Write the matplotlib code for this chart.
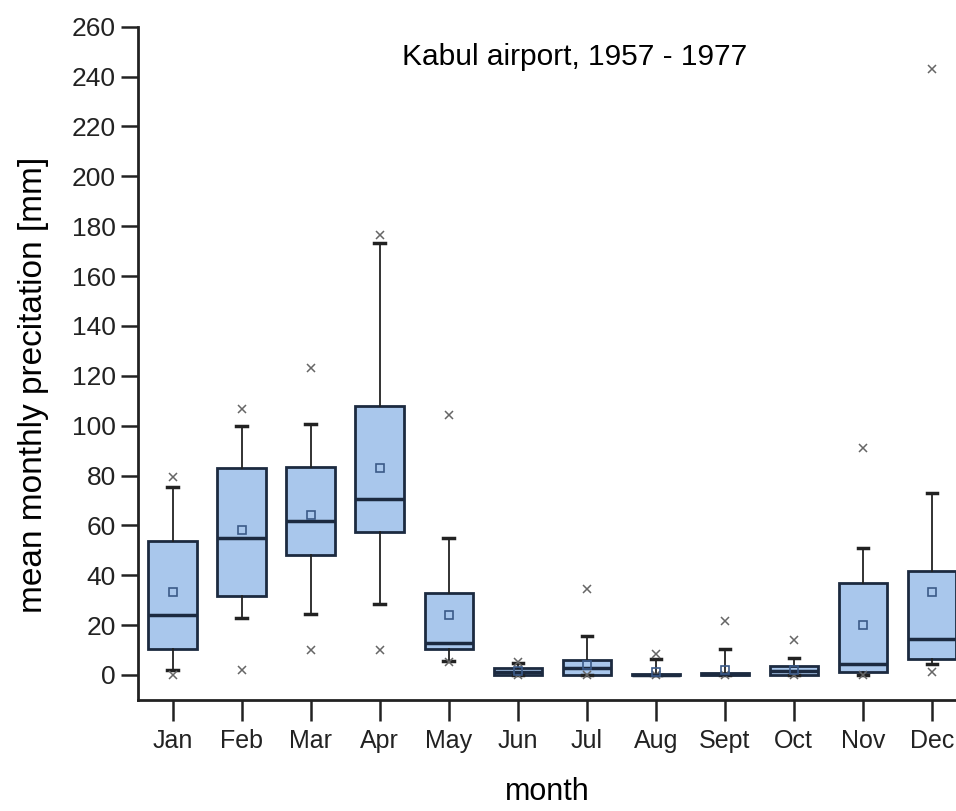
import numpy as np
import matplotlib
matplotlib.use("Agg")
import matplotlib.pyplot as plt

plt.rcParams['font.family'] = ['Liberation Sans', 'DejaVu Sans']

months = ['Jan', 'Feb', 'Mar', 'Apr', 'May', 'Jun',
          'Jul', 'Aug', 'Sept', 'Oct', 'Nov', 'Dec']

# box statistics (mm)
q1 = [10.5, 31.8, 48.3, 57.3, 10.4, 0.0, 0.0, 0.0, 0.0, 0.0, 1.2, 6.6]
median = [24.0, 54.8, 61.9, 70.4, 13.0, 1.2, 2.8, 0.0, 0.4, 1.5, 4.3, 14.3]
q3 = [53.8, 82.9, 83.5, 107.7, 32.7, 2.7, 6.0, 0.3, 0.9, 3.5, 37.0, 41.7]
whislo = [2.0, 22.8, 24.6, 28.5, 5.4, 0.0, 0.0, 0.0, 0.0, 0.0, 0.0, 4.3]
whishi = [75.3, 99.8, 100.8, 173.2, 54.8, 4.6, 15.6, 6.3, 10.4, 6.7, 51.0, 72.8]
mean = [33.3, 58.1, 64.2, 82.9, 23.9, 1.5, 4.0, 1.3, 2.0, 2.0, 20.0, 33.4]
x_min = [0.0, 1.8, 9.9, 9.9, 5.0, 0.0, 0.0, 0.0, 0.0, 0.0, 0.0, 1.3]
x_max = [79.6, 106.6, 123.2, 176.5, 104.2, 5.0, 34.3, 8.3, 21.5, 14.1, 91.0, 243.0]

stats = []
for i in range(len(months)):
    stats.append(dict(q1=q1[i], med=median[i], q3=q3[i],
                      whislo=whislo[i], whishi=whishi[i], mean=mean[i],
                      fliers=[x_min[i], x_max[i]], label=months[i]))

fig = plt.figure(figsize=(9.56, 8.11), dpi=100)
ax = fig.add_axes([0.1444, 0.137, 0.8556, 0.830])

edge = '#1c2a40'
positions = np.arange(1, len(months) + 1)
ax.bxp(stats, positions=positions, widths=0.7, capwidths=0.15,
       patch_artist=True, showmeans=True, showfliers=True,
       boxprops=dict(facecolor='#a9c7ec', edgecolor=edge, linewidth=2),
       medianprops=dict(color=edge, linewidth=2.5),
       whiskerprops=dict(color='#222222', linewidth=1.3),
       capprops=dict(color='#222222', linewidth=2.5),
       meanprops=dict(marker='s', markersize=6, markerfacecolor='none',
                      markeredgecolor='#3b5a88', markeredgewidth=1.2),
       flierprops=dict(marker='x', markersize=5.5, markeredgecolor='#666666',
                       markeredgewidth=1.1))

ax.set_xlim(0.5, 12.35)
ax.set_ylim(-10, 260)
ax.set_yticks(np.arange(0, 261, 20))
ax.set_xticks(positions)
ax.set_xticklabels(months)

for side in ['top', 'right']:
    ax.spines[side].set_visible(False)
for side in ['left', 'bottom']:
    ax.spines[side].set_linewidth(2)
    ax.spines[side].set_color('#222222')

ax.tick_params(axis='y', length=12, width=1.8, labelsize=19, pad=4, colors='#222222')
ax.tick_params(axis='x', length=15, width=1.8, labelsize=18, pad=6, colors='#222222')

ax.set_ylabel('mean monthly precitation [mm]', fontsize=24)
ax.yaxis.set_label_coords(-0.109, 0.468)
ax.set_xlabel('month', fontsize=22, labelpad=17)
ax.text(0.534, 0.955, 'Kabul airport, 1957 - 1977', transform=ax.transAxes,
        ha='center', va='center', fontsize=21.5)

fig.savefig('out.png', dpi=100)
